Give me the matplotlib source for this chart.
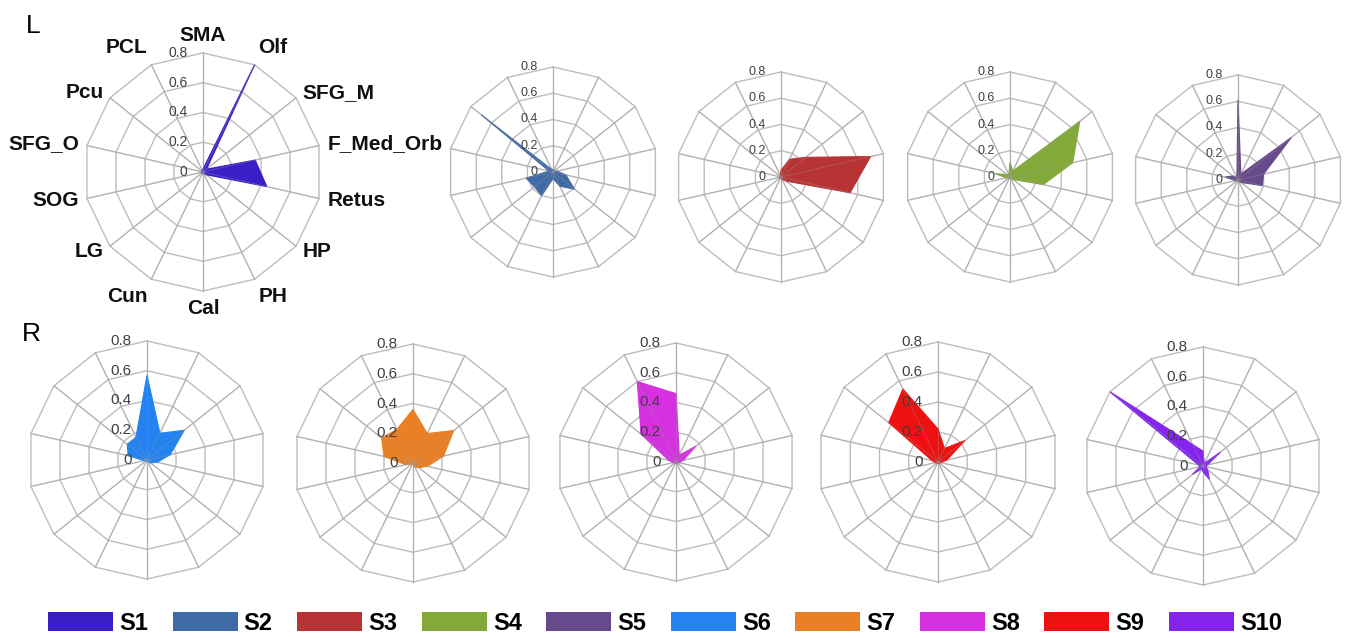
import numpy as np
import matplotlib
matplotlib.use("Agg")
import matplotlib.pyplot as plt
from matplotlib.patches import Patch

plt.rcParams["font.family"] = ["Liberation Sans", "DejaVu Sans"]

W, H = 1347, 638

# --- data -----------------------------------------------------------------
categories = ["SMA", "Olf", "SFG_M", "F_Med_Orb", "Retus", "HP", "PH",
              "Cal", "Cun", "LG", "SOG", "SFG_O", "Pcu", "PCL"]
r_ticks = [0, 0.2, 0.4, 0.6, 0.8]
r_tick_labels = ["0", "0.2", "0.4", "0.6", "0.8"]
series_names = ["S1", "S2", "S3", "S4", "S5", "S6", "S7", "S8", "S9", "S10"]

# hemisphere L (top row)
s1 = [0.02, 0.80, 0.03, 0.36, 0.44, 0.03, 0.01, 0.01, 0.01, 0.01, 0.01, 0.01, 0.01, 0.01]
s2 = [0.02, 0.01, 0.01, 0.03, 0.10, 0.21, 0.12, 0.05, 0.20, 0.18, 0.21, 0.03, 0.70, 0.02]
s3 = [0.05, 0.15, 0.24, 0.70, 0.54, 0.05, 0.02, 0.01, 0.01, 0.01, 0.01, 0.01, 0.01, 0.01]
s4 = [0.11, 0.05, 0.68, 0.49, 0.26, 0.03, 0.01, 0.01, 0.01, 0.01, 0.03, 0.11, 0.03, 0.02]
s5 = [0.61, 0.05, 0.52, 0.20, 0.19, 0.03, 0.01, 0.01, 0.01, 0.01, 0.02, 0.10, 0.05, 0.02]
# hemisphere R (bottom row)
s6 = [0.57, 0.20, 0.32, 0.16, 0.07, 0.03, 0.01, 0.01, 0.01, 0.01, 0.02, 0.13, 0.17, 0.17]
s7 = [0.36, 0.22, 0.35, 0.21, 0.10, 0.05, 0.03, 0.01, 0.01, 0.01, 0.05, 0.20, 0.27, 0.25]
s8 = [0.46, 0.05, 0.17, 0.05, 0.02, 0.01, 0.01, 0.01, 0.01, 0.01, 0.02, 0.05, 0.30, 0.60]
s9 = [0.22, 0.10, 0.23, 0.06, 0.02, 0.01, 0.01, 0.01, 0.01, 0.01, 0.02, 0.04, 0.42, 0.54]
s10 = [0.10, 0.02, 0.15, 0.03, 0.02, 0.04, 0.10, 0.04, 0.02, 0.09, 0.02, 0.03, 0.80, 0.16]

series = [s1, s2, s3, s4, s5, s6, s7, s8, s9, s10]
colors = ["#3A1FC8", "#3E6AA5", "#B83434", "#84A93B", "#674A8C",
          "#2483F0", "#E98025", "#D531E0", "#EE1111", "#8424EE"]

# --- layout: centre x, centre y, radius (pixels), tick font size -------------
layout = [
    (203, 172, 119, 10), (553, 172, 105, 9), (781, 177, 105, 9),
    (1010, 177, 105, 9), (1238, 180, 105, 9),
    (147, 460, 119, 11), (413, 463, 119, 11), (676, 462, 119, 11),
    (938, 462, 120, 11), (1203, 466, 119, 11),
]
GRID = "#BDBDBD"

angles = np.arange(len(categories)) * 2 * np.pi / len(categories)
closed = np.append(angles, angles[0])

fig = plt.figure(figsize=(W / 100, H / 100), dpi=100)


def radar(cx, cy, rad, values, color, tick_fs, show_cats=False):
    ax = fig.add_axes([(cx - rad) / W, 1 - (cy + rad) / H, 2 * rad / W, 2 * rad / H],
                      projection="polar")
    ax.set_theta_zero_location("N")
    ax.set_theta_direction(-1)
    ax.set_ylim(0, 0.8)
    ax.axis("off")

    # polygon grid
    for r in r_ticks[1:]:
        ax.plot(closed, [r] * len(closed), color=GRID, lw=1.0, clip_on=False, zorder=1)
    for a in angles:
        ax.plot([a, a], [0, 0.8], color=GRID, lw=1.0, clip_on=False, zorder=1)

    v = np.append(values, values[0])
    ax.fill(closed, v, facecolor=color, edgecolor=color, lw=0.8, zorder=2, clip_on=False)
    # spokes faintly visible through the fill
    for a in angles:
        ax.plot([a, a], [0, 0.8], color="#999999", lw=0.7, alpha=0.35,
                clip_on=False, zorder=3)

    for r, lab in zip(r_ticks, r_tick_labels):
        ax.annotate(lab, xy=(0, r), xytext=(-11, 0), textcoords="offset points",
                    ha="right", va="center", fontsize=tick_fs, color="#404040",
                    zorder=4)

    if show_cats:
        for a, cat in zip(angles, categories):
            s, c = np.sin(a), np.cos(a)
            ha = "left" if s > 0.1 else ("right" if s < -0.1 else "center")
            va = "bottom" if c > 0.8 else ("top" if c < -0.8 else "center")
            ax.annotate(cat, xy=(a, 0.8), xytext=(6 * s, 6 * c),
                        textcoords="offset points", ha=ha, va=va,
                        fontsize=15, fontweight="bold", color="#111111",
                        annotation_clip=False)
    return ax


for i, (vals, col, (cx, cy, rad, fs)) in enumerate(zip(series, colors, layout)):
    radar(cx, cy, rad, vals, col, fs, show_cats=(i == 0))

fig.text(26 / W, 1 - 33 / H, "L", fontsize=19, ha="left", va="baseline")
fig.text(22 / W, 1 - 341 / H, "R", fontsize=19, ha="left", va="baseline")

handles = [Patch(facecolor=c, edgecolor="none", label=n)
           for c, n in zip(colors, series_names)]
fig.legend(handles=handles, loc="center", bbox_to_anchor=(665 / W, 1 - 623 / H),
           ncol=10, frameon=False, handlelength=2.75, handleheight=0.85,
           handletextpad=0.25, columnspacing=1.05,
           prop={"family": ["Liberation Sans Narrow", "Liberation Sans"],
                 "weight": "bold", "size": 17})

fig.savefig("out.png", dpi=100)
